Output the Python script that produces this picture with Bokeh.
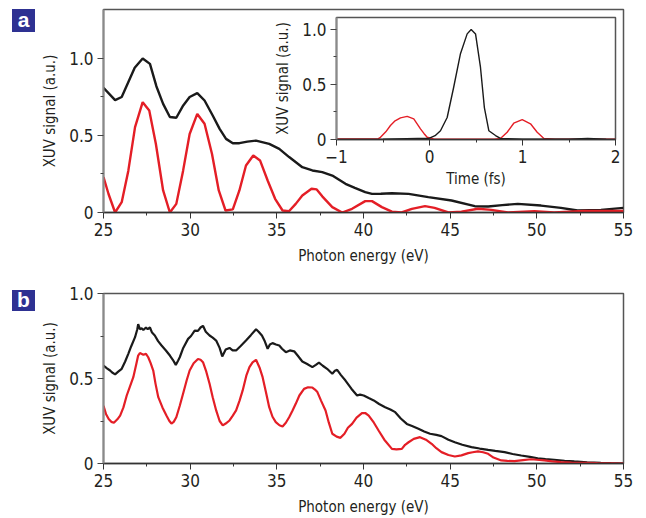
from bokeh.plotting import figure
from bokeh.layouts import column
from bokeh.models import Div, CustomJSTickFormatter, FixedTicker, Range1d
from bokeh.embed import file_html
from bokeh.resources import INLINE

# ---------------- data ----------------
# Panel a: simulated spectra
a_black_E = [25, 25.67, 26.05, 26.8, 27.26, 27.68, 28.05, 28.44, 28.83, 29.2, 29.6, 29.97, 30.41, 30.83,
             31.3, 31.7, 32.07, 32.46, 32.84, 33.3, 33.8, 34.56, 35.14, 35.71, 36.47, 37.05, 37.62, 38.2,
             38.96, 39.5, 40.1, 40.49, 41.0, 41.64, 42.6, 43.74, 45.08, 46.42, 47.19, 48.0, 48.9, 50.24,
             51.39, 52.35, 53.7, 55]
a_black_y = [0.81, 0.73, 0.75, 0.94, 1.0, 0.965, 0.82, 0.705, 0.62, 0.615, 0.695, 0.75, 0.775, 0.727,
             0.63, 0.543, 0.478, 0.45, 0.45, 0.46, 0.467, 0.446, 0.413, 0.36, 0.294, 0.273, 0.262, 0.24,
             0.186, 0.16, 0.132, 0.121, 0.122, 0.125, 0.121, 0.1, 0.078, 0.041, 0.039, 0.048, 0.056, 0.045,
             0.03, 0.013, 0.017, 0.03]
a_red_E = [25, 25.29, 25.67, 26.05, 26.43, 26.82, 27.26, 27.64, 28.02, 28.44, 28.83, 29.2, 29.59, 29.97,
           30.41, 30.83, 31.26, 31.65, 32.04, 32.46, 32.84, 33.22, 33.64, 34.03, 34.47, 34.9, 35.33, 35.7,
           36.09, 36.47, 37.0, 37.3, 37.62, 38.2, 38.77, 39.34, 40.1, 40.49, 41.06, 41.64, 42.2, 42.79,
           43.55, 44.1, 44.9, 45.65, 46.61, 47.37, 48.33, 49.86, 51.0, 52.73, 55]
a_red_y = [0.23, 0.12, 0.0, 0.067, 0.27, 0.554, 0.716, 0.662, 0.446, 0.143, 0.0, 0.056, 0.27, 0.51,
           0.64, 0.576, 0.38, 0.143, 0.013, 0.02, 0.143, 0.305, 0.37, 0.338, 0.208, 0.089, 0.013, 0.008,
           0.056, 0.11, 0.154, 0.15, 0.105, 0.035, 0.0, 0.024, 0.074, 0.074, 0.035, 0.006, 0.0, 0.024,
           0.041, 0.03, 0.0, 0.006, 0.024, 0.017, 0.0, 0.008, 0.0, 0.01, 0.01]

# Inset: temporal profiles
in_black_t = [-1, -0.5, 0.0, 0.06, 0.118, 0.19, 0.26, 0.333, 0.405, 0.448, 0.495, 0.548, 0.59, 0.638,
              0.71, 0.763, 1.0, 1.5, 1.7, 1.9, 2.0]
in_black_y = [0.0, 0.003, 0.012, 0.035, 0.08, 0.2, 0.475, 0.78, 0.96, 1.0, 0.96, 0.657, 0.29, 0.08,
              0.036, 0.01, 0.003, 0.003, 0.01, 0.003, 0.0]
in_red_t = [-1, -0.6, -0.55, -0.527, -0.47, -0.42, -0.37, -0.312, -0.24, -0.169, -0.097, -0.06, -0.025,
            0.05, 0.7, 0.763, 0.835, 0.906, 0.997, 1.086, 1.158, 1.23, 1.35, 2.0]
in_red_y = [0.005, 0.005, 0.008, 0.02, 0.07, 0.127, 0.17, 0.197, 0.21, 0.188, 0.097, 0.055, 0.02,
            0.003, 0.003, 0.01, 0.066, 0.148, 0.18, 0.143, 0.066, 0.01, 0.003, 0.003]

# Panel b: measured spectra
b_black_E = [25.0, 25.2, 25.38, 25.5, 25.67, 25.85, 26.05, 26.25, 26.43, 26.6, 26.82, 26.95, 27.0, 27.1,
             27.2, 27.3, 27.45, 27.55, 27.68, 27.8, 27.96, 28.15, 28.35, 28.6, 28.83, 29.0, 29.17, 29.3,
             29.4, 29.6, 29.88, 30.05, 30.26, 30.45, 30.6, 30.74, 30.9, 31.12, 31.3, 31.5, 31.7, 31.85,
             32.05, 32.27, 32.45, 32.65, 32.9, 33.22, 33.5, 33.8, 33.95, 34.14, 34.3, 34.47, 34.6, 34.75,
             34.95, 35.14, 35.3, 35.52, 35.75, 36.0, 36.2, 36.47, 36.75, 37.05, 37.25, 37.43, 37.65, 37.9,
             38.2, 38.35, 38.48, 38.7, 38.96, 39.3, 39.63, 39.8, 40.01, 40.3, 40.59, 40.9, 41.25, 41.55,
             41.83, 42.15, 42.5, 42.8, 43.17, 43.5, 43.84, 44.2, 44.5, 44.9, 45.27, 45.7, 46.23, 46.7,
             47.19, 47.6, 48.14, 48.6, 49.1, 49.6, 50.05, 50.5, 51.0, 51.6, 52.16, 52.9, 53.69, 54.3, 55]
b_black_y = [0.576, 0.56, 0.547, 0.535, 0.524, 0.54, 0.557, 0.6, 0.645, 0.69, 0.743, 0.79, 0.82, 0.79,
             0.795, 0.785, 0.8, 0.79, 0.8, 0.77, 0.753, 0.72, 0.694, 0.665, 0.635, 0.61, 0.58, 0.605,
             0.625, 0.68, 0.733, 0.75, 0.782, 0.78, 0.8, 0.81, 0.775, 0.753, 0.74, 0.723, 0.68, 0.63,
             0.67, 0.68, 0.665, 0.665, 0.69, 0.723, 0.755, 0.79, 0.775, 0.753, 0.72, 0.675, 0.7, 0.708,
             0.7, 0.694, 0.675, 0.655, 0.665, 0.66, 0.635, 0.6, 0.585, 0.567, 0.58, 0.593, 0.575, 0.557,
             0.528, 0.545, 0.551, 0.52, 0.488, 0.44, 0.4, 0.405, 0.4, 0.385, 0.371, 0.35, 0.331, 0.318,
             0.302, 0.265, 0.233, 0.22, 0.204, 0.188, 0.175, 0.168, 0.161, 0.14, 0.125, 0.11, 0.096, 0.088,
             0.08, 0.074, 0.067, 0.056, 0.047, 0.039, 0.031, 0.026, 0.022, 0.016, 0.012, 0.007, 0.004, 0.002, 0.0]
b_red_E = [25.0, 25.15, 25.3, 25.45, 25.6, 25.8, 25.96, 26.15, 26.34, 26.55, 26.72, 26.88, 27.0, 27.1,
           27.3, 27.45, 27.58, 27.72, 27.87, 28.0, 28.16, 28.4, 28.63, 28.8, 28.92, 29.05, 29.2, 29.4,
           29.59, 29.8, 29.97, 30.2, 30.45, 30.6, 30.74, 30.93, 31.12, 31.3, 31.5, 31.7, 31.88, 32.05,
           32.27, 32.45, 32.65, 32.85, 33.03, 33.25, 33.42, 33.6, 33.8, 34.0, 34.18, 34.37, 34.56, 34.75,
           34.94, 35.15, 35.33, 35.52, 35.71, 35.9, 36.09, 36.3, 36.57, 36.8, 37.05, 37.2, 37.34, 37.55,
           37.81, 38.0, 38.2, 38.45, 38.67, 38.9, 39.1, 39.34, 39.6, 39.91, 40.1, 40.3, 40.6, 40.87, 41.2,
           41.64, 41.9, 42.21, 42.4, 42.6, 42.9, 43.26, 43.6, 43.93, 44.2, 44.5, 44.9, 45.27, 45.65, 46.04,
           46.3, 46.61, 46.9, 47.19, 47.5, 47.95, 48.3, 48.71, 49.2, 49.67, 50.0, 50.43, 50.9, 51.39, 52.0,
           52.73, 53.5, 55]
b_red_y = [0.34, 0.29, 0.262, 0.245, 0.24, 0.26, 0.282, 0.33, 0.4, 0.46, 0.508, 0.58, 0.635, 0.65,
           0.64, 0.645, 0.625, 0.59, 0.547, 0.47, 0.39, 0.33, 0.282, 0.25, 0.235, 0.245, 0.272, 0.34,
           0.41, 0.49, 0.547, 0.59, 0.615, 0.61, 0.596, 0.54, 0.469, 0.39, 0.312, 0.25, 0.224, 0.235,
           0.253, 0.28, 0.312, 0.37, 0.43, 0.52, 0.567, 0.595, 0.61, 0.565, 0.508, 0.42, 0.331, 0.275,
           0.243, 0.225, 0.218, 0.24, 0.272, 0.31, 0.351, 0.4, 0.439, 0.448, 0.447, 0.435, 0.42, 0.37,
           0.312, 0.24, 0.175, 0.158, 0.151, 0.175, 0.21, 0.233, 0.27, 0.296, 0.297, 0.282, 0.24, 0.194, 0.14,
           0.086, 0.083, 0.086, 0.11, 0.125, 0.145, 0.155, 0.14, 0.116, 0.09, 0.067, 0.05, 0.041, 0.048, 0.061,
           0.066, 0.071, 0.066, 0.057, 0.035, 0.018, 0.015, 0.014, 0.02, 0.025, 0.022, 0.018, 0.012, 0.008, 0.005,
           0.004, 0.002, 0.0]

energy_ticks = [25, 30, 35, 40, 45, 50, 55]
energy_minor = [27.5, 32.5, 37.5, 42.5, 47.5, 52.5]
signal_ticks = [0, 0.5, 1.0]
signal_minor = [0.25, 0.75]
time_ticks = [-1, 0, 1, 2]
time_minor = [-0.5, 0.5, 1.5]

FONT = "DejaVu Sans Condensed"
TXT = "#231f20"
RED = "#e41e26"
BLK = "#1a1a1a"
BLUE = "#2e3192"

y_fmt = CustomJSTickFormatter(code="return tick == 0 ? '0' : tick.toFixed(1);")
t_fmt = CustomJSTickFormatter(code="return tick < 0 ? '\\u2212' + Math.abs(tick) : String(tick);")


def style(p, xt, xm, yt, ym, xlabel, ylabel, yfmt, xfmt=None, lab_size="15px", tick_size="17px"):
    p.grid.visible = False
    p.outline_line_color = "#555555"
    p.outline_line_width = 1.5
    p.xaxis.ticker = FixedTicker(ticks=xt, minor_ticks=xm)
    p.yaxis.ticker = FixedTicker(ticks=yt, minor_ticks=ym)
    p.yaxis.formatter = yfmt
    if xfmt is not None:
        p.xaxis.formatter = xfmt
    for ax in (p.xaxis, p.yaxis):
        ax.major_tick_out = 6
        ax.major_tick_in = 0
        ax.minor_tick_out = 3
        ax.minor_tick_in = 0
        ax.major_label_text_font = FONT
        ax.major_label_text_font_size = tick_size
        ax.major_label_text_color = TXT
        ax.axis_label_text_font = FONT
        ax.axis_label_text_font_size = lab_size
        ax.axis_label_text_font_style = "normal"
        ax.axis_label_text_color = TXT
        ax.major_label_standoff = 4
    p.yaxis.axis_line_color = "#8a8a8a"
    p.yaxis.axis_line_width = 2
    p.yaxis.major_tick_line_color = "#444444"
    p.yaxis.minor_tick_line_color = "#444444"
    p.xaxis.axis_line_color = "#333333"
    p.xaxis.axis_line_width = 1.5
    p.xaxis.major_tick_line_color = "#333333"
    p.xaxis.minor_tick_line_color = "#333333"
    p.xaxis.axis_label = xlabel
    p.yaxis.axis_label = ylabel


def panel_tag(letter, h, margin):
    return Div(text=letter, width=23, height=h, margin=margin,
               styles={"background-color": BLUE, "color": "white", "font-family": "Liberation Sans",
                       "font-weight": "bold", "font-size": "21px", "text-align": "center",
                       "line-height": "%dpx" % (h - 1), "padding": "0px"})


# ---------------- panel a ----------------
pa = figure(width=630, height=264, x_range=Range1d(25, 55), y_range=Range1d(0, 1.318),
            output_backend="svg", toolbar_location=None,
            min_border_left=92, min_border_right=15, min_border_top=1, min_border_bottom=60)
style(pa, energy_ticks, energy_minor, signal_ticks, signal_minor,
      "Photon energy (eV)", "XUV signal (a.u.)", y_fmt)
pa.xaxis.axis_label_standoff = 8
pa.yaxis.axis_label_standoff = 7
pa.line(a_black_E, a_black_y, line_color=BLK, line_width=2.4)
pa.line(a_red_E, a_red_y, line_color=RED, line_width=2.4)

# ---------------- inset ----------------
pi = figure(frame_width=279, frame_height=122, x_range=Range1d(-1, 2), y_range=Range1d(0, 1.109),
            output_backend="svg", toolbar_location=None,
            min_border_left=95, min_border_right=8, min_border_top=10, min_border_bottom=60,
            margin=(-265, 0, 0, 233))
style(pi, time_ticks, time_minor, signal_ticks, signal_minor,
      "Time (fs)", "XUV signal (a.u.)", y_fmt, xfmt=t_fmt)
pi.xaxis.axis_label_standoff = 4
pi.yaxis.axis_label_standoff = 7
pi.border_fill_alpha = 0
pi.line(in_red_t, in_red_y, line_color=RED, line_width=1.4)
pi.line(in_black_t, in_black_y, line_color=BLK, line_width=1.4)

# ---------------- panel b ----------------
pb = figure(width=630, height=233, x_range=Range1d(25, 55), y_range=Range1d(0, 1.0),
            output_backend="svg", toolbar_location=None,
            min_border_left=92, min_border_right=15, min_border_top=8, min_border_bottom=55,
            margin=(86, 0, 0, 0))
style(pb, energy_ticks, energy_minor, signal_ticks, signal_minor,
      "Photon energy (eV)", "XUV signal (a.u.)", y_fmt)
pb.xaxis.axis_label_standoff = 8
pb.yaxis.axis_label_standoff = 7
pb.line(b_black_E, b_black_y, line_color=BLK, line_width=2.2)
pb.line(b_red_E, b_red_y, line_color=RED, line_width=2.2)

tag_a = panel_tag("a", 23, (-509, 0, 0, 4))
tag_b = panel_tag("b", 21, (258, 0, 0, 4))

layout = column(pa, pi, pb, tag_a, tag_b, spacing=0, margin=(8, 0, 0, 8))
open("out.html", "w").write(file_html(layout, INLINE))
